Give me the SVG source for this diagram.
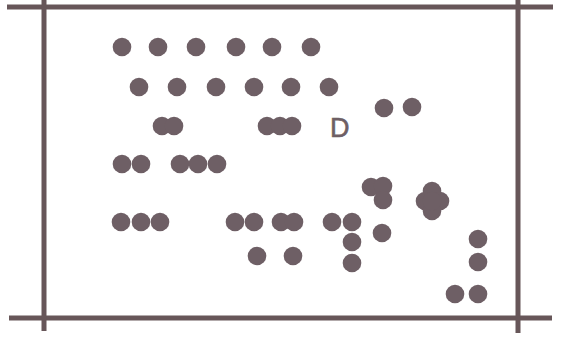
<svg xmlns="http://www.w3.org/2000/svg" width="570" height="340" viewBox="0 0 570 340">
<style>
.frame{stroke:#675659;stroke-width:5;fill:none;stroke-linecap:butt}
.d{fill:#6e5f65}
.lbl{font-family:"Liberation Sans",Arial,sans-serif;font-size:27px;fill:#6e5f65;stroke:#6e5f65;stroke-width:0.6}
</style>
<defs><circle id="p" r="9.3"/></defs>
<rect width="570" height="340" fill="#ffffff"/>
<g id="frame">
<line class="frame" x1="7" y1="7" x2="553" y2="7"/>
<line class="frame" x1="9" y1="318" x2="552" y2="318"/>
<line class="frame" x1="44" y1="0" x2="44" y2="331"/>
<line class="frame" x1="518" y1="0" x2="518" y2="333"/>
</g>
<g id="dots" class="d">
<use href="#p" x="122" y="47"/><use href="#p" x="158" y="47"/><use href="#p" x="196" y="47"/><use href="#p" x="236" y="47"/><use href="#p" x="272" y="47"/><use href="#p" x="311" y="47"/>
<use href="#p" x="139" y="87"/><use href="#p" x="177" y="87"/><use href="#p" x="216" y="87"/><use href="#p" x="254" y="87"/><use href="#p" x="291" y="87"/><use href="#p" x="329" y="87"/>
<use href="#p" x="162" y="126"/><use href="#p" x="174" y="126"/>
<use href="#p" x="267" y="126"/><use href="#p" x="280" y="126"/><use href="#p" x="292" y="126"/>
<use href="#p" x="384" y="108"/><use href="#p" x="412" y="107"/>
<use href="#p" x="122" y="164"/><use href="#p" x="141" y="164"/>
<use href="#p" x="180" y="164"/><use href="#p" x="198" y="164"/><use href="#p" x="217" y="164"/>
<use href="#p" x="371" y="187"/><use href="#p" x="383" y="186"/><use href="#p" x="383" y="200"/>
<use href="#p" x="432" y="191"/><use href="#p" x="425" y="201"/><use href="#p" x="440" y="201"/><use href="#p" x="432" y="211"/><use href="#p" x="432" y="201"/>
<use href="#p" x="121" y="222"/><use href="#p" x="141" y="222"/><use href="#p" x="160" y="222"/>
<use href="#p" x="235" y="222"/><use href="#p" x="254" y="222"/>
<use href="#p" x="281" y="222"/><use href="#p" x="294" y="222"/>
<use href="#p" x="332" y="222"/><use href="#p" x="352" y="222"/>
<use href="#p" x="352" y="242"/><use href="#p" x="352" y="263"/>
<use href="#p" x="382" y="233"/>
<use href="#p" x="257" y="256"/><use href="#p" x="293" y="256"/>
<use href="#p" x="478" y="239"/><use href="#p" x="478" y="262"/>
<use href="#p" x="455" y="294"/><use href="#p" x="478" y="294"/>
</g>
<text class="lbl" x="330" y="137">D</text>
</svg>
